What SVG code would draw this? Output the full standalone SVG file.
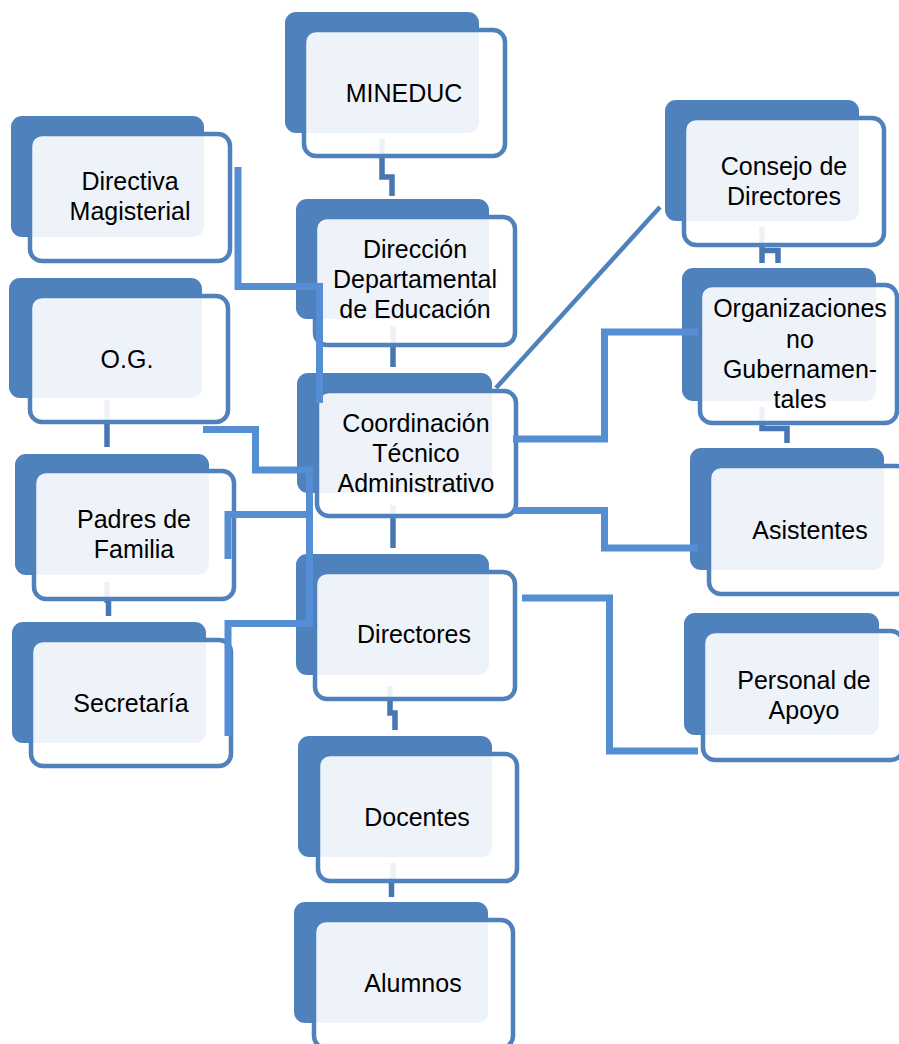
<svg xmlns="http://www.w3.org/2000/svg" width="899" height="1044" viewBox="0 0 899 1044">
<style>
.bg{fill:#4F81BD}
.fr{fill:#FFFFFF;fill-opacity:0.9;stroke:#4F81BD;stroke-width:4.5}
.t{font-family:"Liberation Sans",Arial,sans-serif;font-size:25px;fill:#000;text-anchor:middle}
.stub{fill:none;stroke:#4876B2;stroke-width:5.5}
.lc{fill:none;stroke:#558ED5;stroke-width:7}
.dg{fill:none;stroke:#4F81BD;stroke-width:4.5}
</style>
<rect width="899" height="1044" fill="#FFFFFF"/>
<g id="stubs">
<path class="stub" d="M382,139 V177 H392 V196"/>
<path class="stub" d="M393,326 V367"/>
<path class="stub" d="M393,505 V548"/>
<path class="stub" d="M390,686 V713 H395 V730"/>
<path class="stub" d="M393,863 V880 H391.5 V897"/>
<path class="stub" d="M107,400 V447"/>
<path class="stub" d="M107,582 V600 H108.5 V616"/>
<path class="stub" d="M762,227 V263 M762,250.5 H778 V263"/>
<path class="stub" d="M762,407 V428.5 H787 V443"/>
</g>
<g id="n-mineduc"><rect class="bg" x="285" y="12" width="194" height="121" rx="11"/><rect class="fr" x="304" y="30" width="201" height="126" rx="12"/><text class="t" x="404" y="102">MINEDUC</text></g>
<g id="n-directiva"><rect class="bg" x="11" y="116" width="193" height="121" rx="11"/><rect class="fr" x="30" y="134" width="200" height="127" rx="12"/><text class="t" x="130" y="190">Directiva</text><text class="t" x="130" y="220">Magisterial</text></g>
<g id="n-og"><rect class="bg" x="9" y="278" width="193" height="120" rx="11"/><rect class="fr" x="30" y="296" width="198" height="126" rx="12"/><text class="t" x="127" y="368">O.G.</text></g>
<g id="n-padres"><rect class="bg" x="15" y="454" width="194" height="121" rx="11"/><rect class="fr" x="34" y="471" width="200" height="128" rx="12"/><text class="t" x="134" y="528">Padres de</text><text class="t" x="134" y="558">Familia</text></g>
<g id="n-secretaria"><rect class="bg" x="12" y="622" width="194" height="121" rx="11"/><rect class="fr" x="31" y="640" width="200" height="126" rx="12"/><text class="t" x="131" y="712">Secretaría</text></g>
<g id="n-direccion"><rect class="bg" x="296" y="199" width="193" height="120" rx="11"/><rect class="fr" x="315" y="217" width="200" height="128" rx="12"/><text class="t" x="415" y="258">Dirección</text><text class="t" x="415" y="288">Departamental</text><text class="t" x="415" y="318">de Educación</text></g>
<g id="n-coordinacion"><rect class="bg" x="297" y="373" width="195" height="120" rx="11"/><rect class="fr" x="317" y="391" width="199" height="125" rx="12"/><text class="t" x="416" y="432">Coordinación</text><text class="t" x="416" y="462">Técnico</text><text class="t" x="416" y="492">Administrativo</text></g>
<g id="n-directores"><rect class="bg" x="296" y="554" width="193" height="121" rx="11"/><rect class="fr" x="315" y="572" width="200" height="127" rx="12"/><text class="t" x="414" y="643">Directores</text></g>
<g id="n-docentes"><rect class="bg" x="298" y="736" width="194" height="121" rx="11"/><rect class="fr" x="318" y="754" width="199" height="127" rx="12"/><text class="t" x="417" y="826">Docentes</text></g>
<g id="n-alumnos"><rect class="bg" x="294" y="902" width="194" height="121" rx="11"/><rect class="fr" x="314" y="920" width="199" height="128" rx="12"/><text class="t" x="413" y="992">Alumnos</text></g>
<g id="n-consejo"><rect class="bg" x="665" y="100" width="194" height="121" rx="11"/><rect class="fr" x="684" y="118" width="200" height="127" rx="12"/><text class="t" x="784" y="175">Consejo de</text><text class="t" x="784" y="205">Directores</text></g>
<g id="n-ong"><rect class="bg" x="682" y="268" width="194" height="133" rx="11"/><rect class="fr" x="700" y="285" width="197" height="138" rx="12"/><text class="t" x="800" y="317">Organizaciones</text><text class="t" x="800" y="348">no</text><text class="t" x="800" y="378">Gubernamen-</text><text class="t" x="800" y="408">tales</text></g>
<g id="n-asistentes"><rect class="bg" x="690" y="448" width="194" height="122" rx="11"/><rect class="fr" x="709" y="466" width="200" height="128" rx="12"/><text class="t" x="810" y="539">Asistentes</text></g>
<g id="n-personal"><rect class="bg" x="684" y="613" width="195" height="122" rx="11"/><rect class="fr" x="703" y="631" width="200" height="129" rx="12"/><text class="t" x="804" y="689">Personal de</text><text class="t" x="804" y="719">Apoyo</text></g>
<g id="connectors">
<path class="lc" d="M238,167 V286.5 H319.5 V403"/>
<path class="lc" d="M203,429.5 H255.5 V470 H309.5 V627"/>
<path class="lc" d="M228,559 V514.5 H309.5"/>
<path class="lc" d="M228,736 V623.5 H309.5"/>
<path class="lc" d="M513,439 H604.5 V332 H698"/>
<path class="lc" d="M513,510.5 H604.5 V548 H698"/>
<path class="lc" d="M522,598 H609.5 V751 H698"/>
<path class="dg" d="M496,388 L660,207"/>
</g>
</svg>
